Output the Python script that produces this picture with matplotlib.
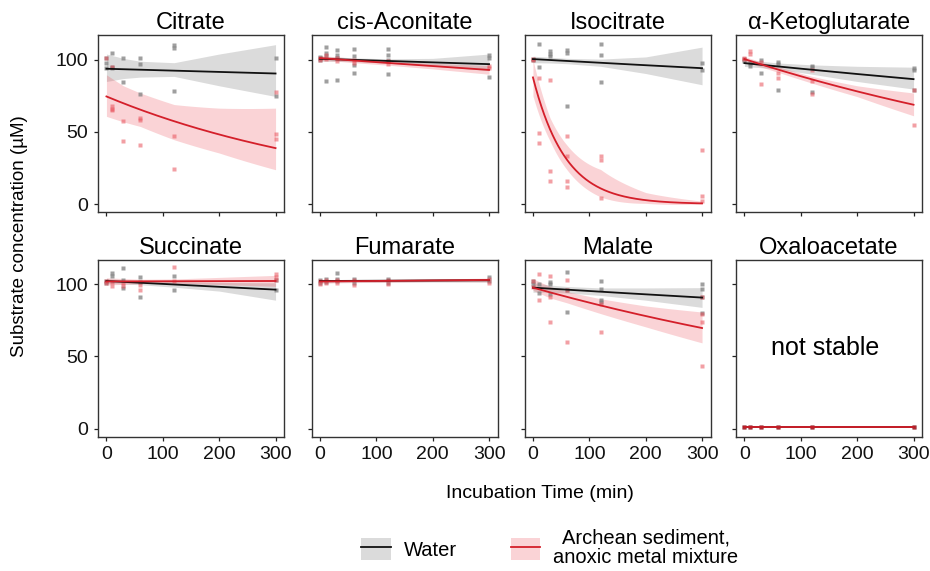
import numpy as np
import matplotlib
matplotlib.use("Agg")
import matplotlib.pyplot as plt
from matplotlib.patches import Patch
from matplotlib.lines import Line2D

plt.rcParams['font.family'] = ['Liberation Sans', 'DejaVu Sans']

# ---------------- data ----------------
TIMES = [0, 10, 30, 60, 120, 300]          # sampling times (min)
BAND_T = [0, 30, 60, 120, 200, 300]        # times at which band edges were read
SUBSTRATES = ["Citrate", "cis-Aconitate", "Isocitrate", "α-Ketoglutarate",
              "Succinate", "Fumarate", "Malate", "Oxaloacetate"]

# replicate measurements (µM) per time point, water
citrate_water = [[101.6, 98, 94], [105, 95, 94], [101.6, 84.3], [101, 96.8, 76], [110, 108.5, 78.5], [101.6, 74.6]]
cisacon_water = [[101, 102, 100], [108.8, 105, 102.3, 85.5], [106.5, 103.5, 101, 86.2], [107.4, 102.8, 96.5, 90.8], [107.4, 103.5, 100, 90.3], [103, 101.5, 87.8]]
isocit_water = [[100.5, 100], [111, 95], [105.8, 104.2, 102.3], [106.9, 104.6, 68], [111, 103.5, 84.5], [97.7, 92.6]]
akg_water = [[100.7, 99], [95.4, 98], [100, 90.8], [98.2, 97, 79.2], [96, 94.9, 78], [94.2, 93, 79.2]]
succ_water = [[102.5, 101], [107.9, 105.5], [111.5, 103.2, 97.7], [105, 101.6, 91.2], [105.5, 96.3], [96.3, 103]]
fum_water = [[103, 101], [104, 101.5], [108, 104, 102], [104, 101], [104, 101], [105, 102]]
mal_water = [[102.3, 100], [100.5, 94], [101.6, 100, 93.5], [108.5, 95.8, 80.8], [102.3, 97, 89.4, 87.8], [100.5, 96.5, 91.2, 80.1]]
oxa_water = [[1.2], [1.2], [1.2], [1.2], [1.2], [1.2]]

# replicate measurements (µM) per time point, Archean sediment
citrate_sed = [[101.6], [95, 67.7, 66, 65.4], [57.3, 44], [59.6, 58, 41], [47.4, 24], [78, 48.5, 45]]
cisacon_sed = [[101.2, 100], [103, 100.5], [101.5, 99], [100, 98], [99, 97], [95.4, 94]]
isocit_sed = [[100.5, 100], [87.3, 49.2, 42.3], [86.2, 22.7, 15.8], [46.9, 33.5, 15.8, 11.8], [33, 30.3, 4.2], [37.7, 5.8, 1.9]]
akg_sed = [[101, 100.5], [105.8, 104.2], [98.8, 83.4], [90.8, 87.3], [93, 85, 76.5], [79, 55]]
succ_sed = [[102, 101], [101.6, 98.6], [101, 99], [99.3, 95.8], [112, 102], [107.4, 105, 102.8]]
fum_sed = [[102, 100], [103, 101], [103, 101], [103, 99.5], [103, 100], [104, 101]]
mal_sed = [[102.3, 98], [107.4, 88.9], [105.5, 91.2, 73.9], [103.2, 95.8, 60], [86.6, 67], [91.2, 79.7, 73.9, 43.2]]
oxa_sed = [[1.2], [1.2], [1.2], [1.2], [1.2], [1.2]]

# exponential fits  C(t) = C0 * exp(-k t)
WATER_C0 = [93.8, 100.7, 100.5, 97.7, 102.3, 102.3, 97.7, 0.8]
WATER_K = [0.000119, 0.000125, 0.000216, 0.000402, 0.000201, -0.0000163, 0.000244, 0.0]
SED_C0 = [74.6, 101.2, 87.8, 100.5, 102.0, 102.0, 97.7, 0.8]
SED_K = [0.00218, 0.000282, 0.0174, 0.00126, -0.00001, -0.000033, 0.001126, 0.0]

# confidence band edges read at BAND_T, water
water_lo = [[85, 87, 88, 88.5, 82, 74.6],
            [99, 99, 98.7, 97.7, 95.8, 92.5],
            [98, 97.8, 97.3, 95.5, 90.5, 82.7],
            [95.4, 94.5, 93.5, 90, 85, 79.7],
            [100.6, 100.2, 99.7, 98, 95.3, 89],
            [101.1, 101.3, 101.4, 101.5, 101.6, 101.5],
            [94.5, 94.5, 94, 92.3, 89, 84],
            None]
water_hi = [[104, 101, 99, 98, 104, 110.5],
            [102.5, 102, 101.3, 100.7, 101, 104],
            [102.5, 101.8, 101, 100.5, 102, 108.8],
            [100.5, 99, 97.8, 96.5, 95.5, 94.9],
            [104, 103.2, 102.5, 101.8, 101.3, 101],
            [103.5, 103.3, 103.2, 103.3, 103.6, 104],
            [101, 99.5, 98.5, 97.5, 97.5, 97.7],
            None]
# confidence band edges read at BAND_T, sediment
sed_lo = [[60.8, 57, 53.8, 44.6, 35.4, 23.8],
          [99.5, 99, 98, 96.3, 93.7, 90],
          [75, 44, 24, 5, 0.5, 0],
          [98.8, 95, 91.3, 83.8, 74.5, 61.2],
          [99.5, 100, 100.5, 100.7, 99.8, 98.6],
          [100.7, 101, 101.2, 101.4, 101.9, 101.7],
          [95.8, 90.6, 87.2, 79.7, 70.5, 59.4],
          None]
sed_hi = [[89.6, 82, 77, 69, 66.5, 66.5],
          [103, 102, 101, 99.3, 97.5, 96],
          [100, 60, 41, 24, 8, 2],
          [102.3, 98.5, 95.2, 88.5, 82, 77],
          [104.5, 104, 103.5, 103.7, 104.8, 106.2],
          [103.3, 103, 102.9, 103, 103.6, 104.3],
          [103.9, 98.5, 95, 90, 85, 80.8],
          None]

WATER_PTS = [citrate_water, cisacon_water, isocit_water, akg_water, succ_water, fum_water, mal_water, oxa_water]
SED_PTS = [citrate_sed, cisacon_sed, isocit_sed, akg_sed, succ_sed, fum_sed, mal_sed, oxa_sed]

X_TICKS = [0, 100, 200, 300]
Y_TICKS = [0, 50, 100]

# ---------------- style ----------------
W_LINE = "#111111"
W_BAND = "#a6a6a6"
W_PT = "#7f7f7f"
R_LINE = "#d41f2a"
R_BAND = "#ea3a46"
R_PT = "#e8505a"
W_ALPHA = 0.4
R_ALPHA = 0.22

fig = plt.figure(figsize=(9.30, 5.71), dpi=100)
FW, FH = 930.0, 571.0
lefts = [98, 311.5, 524.5, 736]
width = 186
rows = [(35, 212), (259.5, 436.5)]


def draw(ax, pts, c0, k, lo, hi, bc, ba, pc, pa):
    t = np.linspace(0, 300, 301)
    fit = c0 * np.exp(-k * t)
    if lo is not None:
        bt = np.array(BAND_T, float)
        fk = c0 * np.exp(-k * bt)
        lo_off = np.interp(t, bt, np.array(lo) - fk)
        hi_off = np.interp(t, bt, np.array(hi) - fk)
        ax.fill_between(t, fit + lo_off, fit + hi_off, color=bc, alpha=ba, lw=0, zorder=1)
    for ti, vals in zip(TIMES, pts):
        ax.plot([ti] * len(vals), vals, 's', ms=2.6, color=pc, alpha=pa, mec='none', zorder=2)
    return t, fit


for i, name in enumerate(SUBSTRATES):
    r, c = divmod(i, 4)
    top, bot = rows[r]
    ax = fig.add_axes([lefts[c] / FW, 1 - bot / FH, width / FW, (bot - top) / FH])
    ax.set_xlim(-15, 315)
    ax.set_ylim(-5.5, 117.2)
    if i == 7:
        tw, fw = draw(ax, WATER_PTS[i], WATER_C0[i], WATER_K[i], None, None, W_BAND, W_ALPHA, W_PT, 0.8)
        tr, fr = draw(ax, SED_PTS[i], SED_C0[i], SED_K[i], None, None, R_BAND, R_ALPHA, "#b0202a", 0.9)
        ax.text(144, 56, "not stable", ha='center', va='center', fontsize=18)
    else:
        tw, fw = draw(ax, WATER_PTS[i], WATER_C0[i], WATER_K[i], water_lo[i], water_hi[i], W_BAND, W_ALPHA, W_PT, 0.75)
        tr, fr = draw(ax, SED_PTS[i], SED_C0[i], SED_K[i], sed_lo[i], sed_hi[i], R_BAND, R_ALPHA, R_PT, 0.55)
    ax.plot(tw, fw, color=W_LINE, lw=1.3, zorder=3)
    ax.plot(tr, fr, color=R_LINE, lw=1.3, zorder=4)
    ax.set_title(name, fontsize=17, pad=4)
    ax.set_xticks(X_TICKS)
    ax.set_yticks(Y_TICKS)
    ax.tick_params(length=3, width=0.9, colors='#222222', labelsize=14, pad=4, labelcolor='#111111')
    if r == 0:
        ax.set_xticklabels([])
    if c != 0:
        ax.set_yticklabels([])
    for s in ax.spines.values():
        s.set_linewidth(1.0)
        s.set_color('#333333')

fig.text(20 / FW, 1 - 236 / FH, "Substrate concentration (µM)", rotation=90,
         ha='center', va='center', fontsize=13.5)
fig.text(540 / FW, 1 - 493 / FH, "Incubation Time (min)", ha='center', va='center', fontsize=14)

handles = [(Patch(facecolor=W_BAND, alpha=W_ALPHA, edgecolor='none'), Line2D([], [], color=W_LINE, lw=1.3)),
           (Patch(facecolor=R_BAND, alpha=R_ALPHA, edgecolor='none'), Line2D([], [], color=R_LINE, lw=1.3))]
labels = ["Water", "Archean sediment,\nanoxic metal mixture"]
leg = fig.legend(handles, labels, loc='center', bbox_to_anchor=(550 / FW, 1 - 548 / FH), ncol=2,
                 frameon=False, fontsize=14.5, handlelength=1.45, handleheight=1.3,
                 columnspacing=2.7, handletextpad=0.65, labelspacing=0.2)
for txt in leg.get_texts():
    txt.set_multialignment('center')
    txt.set_linespacing(1.05)

fig.savefig("out.png", dpi=100)
